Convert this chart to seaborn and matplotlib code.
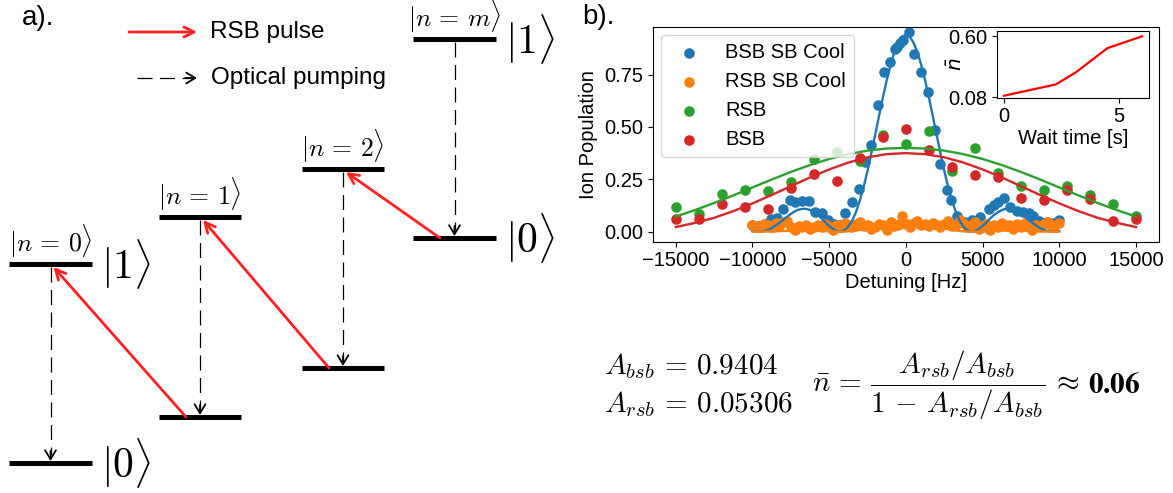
import matplotlib
matplotlib.use("Agg")
import matplotlib.pyplot as plt
import seaborn as sns

# ---------------- data ----------------
# BSB after sideband cooling (blue points)
bsb_cool_x = [-10000, -9600, -9200, -8780, -8400, -8000, -7550, -7200, -6770, -6340,
              -5900, -5470, -5100, -4700, -4300, -3950, -3510, -3080, -2690, -2300,
              -1830, -1460, -1020, -700, -550, -370, -160, 215, 560, 995,
              1470, 1906, 2240, 2650, 2950, 3300, 3860, 4290, 4830, 5400,
              5760, 6030, 6380, 6790, 7220, 7630, 8000, 8300, 8700, 9180,
              9600, 10000]
bsb_cool_y = [0.030, 0.025, 0.035, 0.060, 0.065, 0.108, 0.151, 0.140, 0.146, 0.146,
              0.095, 0.088, 0.056, 0.035, 0.030, 0.088, 0.143, 0.202, 0.334, 0.412,
              0.606, 0.760, 0.811, 0.872, 0.883, 0.900, 0.915, 0.951, 0.846, 0.763,
              0.668, 0.485, 0.322, 0.198, 0.150, 0.075, 0.048, 0.056, 0.068, 0.109,
              0.125, 0.143, 0.160, 0.120, 0.100, 0.095, 0.090, 0.076, 0.050, 0.045,
              0.040, 0.056]

# RSB after sideband cooling (orange points)
rsb_cool_x = [-10000, -9750, -9500, -9250, -9000, -8750, -8500, -8250, -8000, -7750,
              -7500, -7250, -7000, -6750, -6500, -6250, -6000, -5750, -5500, -5250,
              -5000, -4750, -4500, -4250, -4000, -3750, -3500, -3250, -3000, -2750,
              -2500, -2250, -2000, -1750, -1500, -1250, -1000, -750, -500, -250,
              0, 250, 500, 750, 1000, 1250, 1500, 1750, 2000, 2250,
              2500, 2750, 3000, 3250, 3500, 3750, 4000, 4250, 4500, 4750,
              5000, 5250, 5500, 5750, 6000, 6250, 6500, 6750, 7000, 7250,
              7500, 7750, 8000, 8250, 8500, 8750, 9000, 9250, 9500, 9750, 10000]
rsb_cool_y = [0.030, 0.025, 0.020, 0.035, 0.030, 0.020, 0.040, 0.025, 0.045, 0.050,
              0.020, 0.010, 0.025, 0.020, 0.030, 0.015, 0.020, 0.030, 0.020, 0.035,
              0.025, 0.010, 0.030, 0.020, 0.040, 0.030, 0.020, 0.035, 0.045, 0.025,
              0.030, 0.015, 0.020, 0.035, 0.030, 0.010, 0.045, 0.025, 0.030, 0.075,
              0.035, 0.020, 0.040, 0.050, 0.030, 0.035, 0.025, 0.040, 0.030, 0.020,
              0.035, 0.050, 0.025, 0.030, 0.055, 0.040, 0.020, 0.030, 0.045, 0.015,
              0.020, 0.035, 0.010, 0.030, 0.020, 0.040, 0.025, 0.030, 0.015, 0.035,
              0.020, 0.040, 0.025, 0.010, 0.030, 0.020, 0.035, 0.045, 0.025, 0.030, 0.040]

# Uncooled sideband scans (green = RSB, red = BSB)
sideband_x = [-15000, -13500, -12000, -10500, -9000, -7500, -6000, -4500, -3000, -1500,
              0, 1500, 3000, 4500, 6000, 7500, 9000, 10500, 12000, 13500, 15000]
rsb_y = [0.119, 0.082, 0.182, 0.200, 0.193, 0.235, 0.345, 0.380, 0.335, 0.463,
         0.420, 0.479, 0.289, 0.400, 0.281, 0.220, 0.200, 0.220, 0.174, 0.132, 0.075]
bsb_y = [0.060, 0.060, 0.130, 0.120, 0.110, 0.210, 0.274, 0.240, 0.350, 0.450,
         0.490, 0.390, 0.310, 0.270, 0.260, 0.160, 0.150, 0.200, 0.155, 0.052, 0.060]

# Fit curves, read at a regular detuning grid (positive half, symmetric)
cool_fit_x = list(range(-10000, 10001, 250))
bsb_cool_fit_half = [0.940, 0.931, 0.902, 0.857, 0.796, 0.723, 0.641, 0.553, 0.463, 0.375,
                     0.291, 0.215, 0.149, 0.095, 0.053, 0.024, 0.007, 0.000, 0.003, 0.013,
                     0.027, 0.045, 0.063, 0.080, 0.093, 0.103, 0.109, 0.109, 0.105, 0.097,
                     0.085, 0.071, 0.057, 0.042, 0.029, 0.017, 0.009, 0.003, 0.000, 0.000,
                     0.003]
rsb_fit_x = list(range(-10000, 10001, 500))
rsb_cool_fit_half = [0.053, 0.051, 0.045, 0.036, 0.026, 0.016, 0.008, 0.003, 0.0004, 0.0002,
                     0.0015, 0.0035, 0.0053, 0.0061, 0.0059, 0.0048, 0.0032, 0.0016, 0.0005,
                     0.0, 0.0002]
wide_fit_x = list(range(-15000, 15001, 1250))
rsb_fit_half = [0.400, 0.397, 0.387, 0.370, 0.347, 0.318, 0.285, 0.249, 0.211, 0.173,
                0.137, 0.103, 0.072]
bsb_fit_half = [0.375, 0.370, 0.355, 0.330, 0.297, 0.259, 0.217, 0.175, 0.135, 0.098,
                0.066, 0.042, 0.022]

bsb_cool_fit = bsb_cool_fit_half[:0:-1] + bsb_cool_fit_half
rsb_cool_fit = rsb_cool_fit_half[:0:-1] + rsb_cool_fit_half
rsb_fit = rsb_fit_half[:0:-1] + rsb_fit_half
bsb_fit = bsb_fit_half[:0:-1] + bsb_fit_half

# Inset: heating
wait_time = [0, 2.25, 3.1, 4.5, 6]
nbar = [0.094, 0.19, 0.29, 0.50, 0.60]

series_labels = ["BSB SB Cool", "RSB SB Cool", "RSB", "BSB"]

# ---------------- style ----------------
C_BLUE, C_ORANGE, C_GREEN, C_RED = "#1f77b4", "#ff7f0e", "#2ca02c", "#d62728"
ARROW_RED = "#ff2020"
plt.rcParams["font.family"] = ["Liberation Sans", "DejaVu Sans"]
plt.rcParams["mathtext.fontset"] = "cm"
FS = 14.5

fig = plt.figure(figsize=(11.73, 4.93), dpi=100)

# overlay axes in pixel coordinates for the schematic / annotations
ax0 = fig.add_axes([0, 0, 1, 1])
ax0.set_xlim(0, 1173)
ax0.set_ylim(493, 0)
ax0.axis("off")

# ---------------- panel b: main plot ----------------
ax = fig.add_axes([0.5565, 0.5097, 0.4316, 0.4355])
S = 58
sns.scatterplot(x=bsb_cool_x, y=bsb_cool_y, color=C_BLUE, s=S, linewidth=0, ax=ax)
sns.scatterplot(x=rsb_cool_x, y=rsb_cool_y, color=C_ORANGE, s=S, linewidth=0, ax=ax)
sns.scatterplot(x=sideband_x, y=rsb_y, color=C_GREEN, s=S, linewidth=0, ax=ax)
sns.scatterplot(x=sideband_x, y=bsb_y, color=C_RED, s=S, linewidth=0, ax=ax)
sns.lineplot(x=cool_fit_x, y=bsb_cool_fit, color=C_BLUE, lw=1.7, ax=ax)
sns.lineplot(x=rsb_fit_x, y=rsb_cool_fit, color=C_ORANGE, lw=1.7, ax=ax)
sns.lineplot(x=wide_fit_x, y=rsb_fit, color=C_GREEN, lw=1.7, ax=ax)
sns.lineplot(x=wide_fit_x, y=bsb_fit, color=C_RED, lw=1.7, ax=ax)

handles = ax.collections[:4]
ax.legend(handles, series_labels, loc="upper left", fontsize=FS, markerscale=1.0,
          borderaxespad=0.4)
ax.set_xlim(-16500, 16500)
ax.set_ylim(-0.048, 0.977)
ax.set_xticks([-15000, -10000, -5000, 0, 5000, 10000, 15000])
ax.set_yticks([0, 0.25, 0.5, 0.75])
ax.set_yticklabels(["0.00", "0.25", "0.50", "0.75"])
ax.tick_params(labelsize=FS)
ax.set_xlabel("Detuning [Hz]", fontsize=FS, labelpad=2)
ax.set_ylabel("Ion Population", fontsize=FS)

# inset
axin = fig.add_axes([0.8497, 0.8018, 0.1298, 0.1359])
sns.lineplot(x=wait_time, y=nbar, color="red", lw=1.6, ax=axin)
axin.set_xlim(-0.317, 6.3)
axin.set_ylim(0.077, 0.648)
axin.set_xticks([0, 5])
axin.set_yticks([0.08, 0.60])
axin.set_yticklabels(["0.08", "0.60"])
axin.tick_params(labelsize=FS)
axin.set_xlabel("Wait time [s]", fontsize=FS, labelpad=2)
axin.set_ylabel(r"$\bar{n}$", fontsize=FS, math_fontfamily="dejavusans")
axin.yaxis.set_label_coords(-0.2, 0.5)

# ---------------- panel labels ----------------
ax0.text(22, 18, "a).", fontsize=20, va="center", ha="left")
ax0.text(582, 17, "b).", fontsize=20, va="center", ha="left")

# ---------------- panel a: schematic ----------------
bar_left = [9, 159, 302, 413]
bar_right = [92, 241, 384, 496]
upper_y = [264, 217, 169, 39]
lower_y = [463, 417, 368, 238]
level_names = [r"$|n\,=\,0\rangle$", r"$|n\,=\,1\rangle$",
               r"$|n\,=\,2\rangle$", r"$|n\,=\,m\rangle$"]

for xl, xr, yu, yl, name in zip(bar_left, bar_right, upper_y, lower_y, level_names):
    xc = (xl + xr) / 2
    ax0.plot([xl, xr], [yu, yu], color="black", lw=3.6, solid_capstyle="butt")
    ax0.plot([xl, xr], [yl, yl], color="black", lw=3.6, solid_capstyle="butt")
    ax0.text(xc, yu - 4, name, fontsize=18.5, ha="center", va="bottom")
    # optical pumping (dashed) arrow
    ax0.plot([xc, xc], [yu + 3, yl - 8], color="black", lw=0.9, ls=(0, (12, 6)))
    ax0.annotate("", xy=(xc, yl - 2), xytext=(xc, yl - 12),
                 arrowprops=dict(arrowstyle="->,head_length=0.5,head_width=0.3",
                                 color="black", lw=1.3, mutation_scale=13,
                                 shrinkA=0, shrinkB=0))

# kets
for xr, yu, yl in [(bar_right[0], upper_y[0], lower_y[0]), (bar_right[3], upper_y[3], lower_y[3])]:
    ax0.text(xr + 9, yu, r"$|1\rangle$", fontsize=30, ha="left", va="center")
    ax0.text(xr + 9, yl, r"$|0\rangle$", fontsize=30, ha="left", va="center")

# RSB pulses: from lower level of column k+1 to upper level of column k
for k in range(3):
    x0 = bar_left[k + 1] + 27
    y0 = lower_y[k + 1]
    x1 = (bar_left[k] + bar_right[k]) / 2 + 3
    y1 = upper_y[k] + 3
    ax0.annotate("", xy=(x1, y1), xytext=(x0, y0),
                 arrowprops=dict(arrowstyle="->,head_length=0.6,head_width=0.3",
                                 color=ARROW_RED, lw=2.0, mutation_scale=12,
                                 shrinkA=0, shrinkB=0))

# schematic legend
ax0.annotate("", xy=(197, 32), xytext=(129, 32),
             arrowprops=dict(arrowstyle="->,head_length=0.6,head_width=0.3",
                             color=ARROW_RED, lw=2.0, mutation_scale=12,
                             shrinkA=0, shrinkB=0))
ax0.text(210, 32, "RSB pulse", fontsize=17.5, va="center", ha="left")
ax0.plot([137, 190], [78, 78], color="black", lw=0.9, ls=(0, (12, 6)))
ax0.annotate("", xy=(197, 78), xytext=(185, 78),
             arrowprops=dict(arrowstyle="->,head_length=0.5,head_width=0.3",
                             color="black", lw=1.3, mutation_scale=13,
                             shrinkA=0, shrinkB=0))
ax0.text(211, 78, "Optical pumping", fontsize=17.5, va="center", ha="left")

# ---------------- equations ----------------
ax0.text(604, 366, r"$A_{bsb} \,=\, 0.9404$", fontsize=21, va="center", ha="left")
ax0.text(604, 404, r"$A_{rsb} \,=\, 0.05306$", fontsize=21, va="center", ha="left")
eq = ax0.text(812, 385,
              r"$\bar{n} \,=\, \dfrac{A_{rsb}/A_{bsb}}{1 \,-\, A_{rsb}/A_{bsb}} \,\approx$",
              fontsize=21, va="center", ha="left")
fig.canvas.draw()
bb = eq.get_window_extent(renderer=fig.canvas.get_renderer())
x_end = ax0.transData.inverted().transform((bb.x1, bb.y0))[0]
ax0.text(x_end + 8, 385, r"$\mathbf{0.06}$", fontsize=21, va="center", ha="left",
         math_fontfamily="stix")

fig.savefig("out.png", dpi=100)
